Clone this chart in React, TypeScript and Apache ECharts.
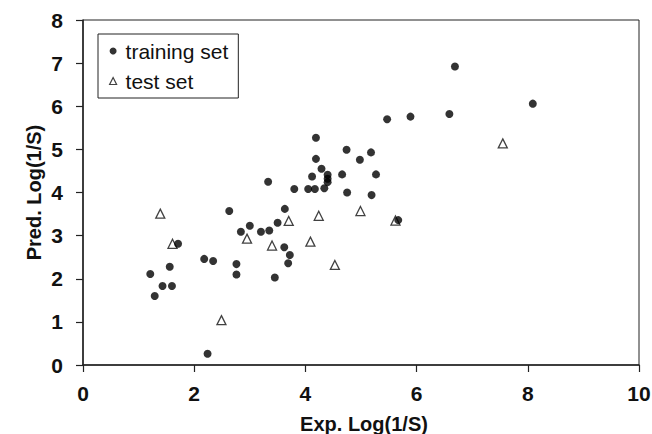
import React, { useEffect, useRef } from "react";
import * as echarts from "echarts";

const trainingSet: [number, number][] = [
  [1.21, 2.11], [1.29, 1.6], [1.43, 1.83], [1.6, 1.83], [1.56, 2.28], [1.71, 2.81],
  [2.18, 2.46], [2.34, 2.41], [2.24, 0.26], [2.63, 3.57], [2.76, 2.34], [2.76, 2.1],
  [2.84, 3.09], [3.0, 3.23], [3.2, 3.09], [3.35, 3.12], [3.33, 4.25], [3.45, 2.03],
  [3.5, 3.3], [3.63, 3.62], [3.62, 2.73], [3.72, 2.55], [3.69, 2.36], [3.8, 4.08],
  [4.05, 4.08], [4.17, 4.08], [4.34, 4.1], [4.12, 4.37], [4.4, 4.41], [4.4, 4.32],
  [4.4, 4.24], [4.29, 4.55], [4.19, 4.78], [4.19, 5.27], [4.66, 4.42], [4.74, 4.99],
  [4.75, 4.0], [4.98, 4.76], [5.18, 4.93], [5.19, 3.94], [5.27, 4.42], [5.47, 5.7],
  [5.89, 5.76], [6.59, 5.82], [6.69, 6.92], [8.09, 6.06], [5.67, 3.36],
];

const testSet: [number, number][] = [
  [1.39, 3.51], [1.61, 2.81], [2.49, 1.04], [2.95, 2.93], [3.4, 2.77], [3.7, 3.34],
  [4.09, 2.86], [4.24, 3.46], [4.53, 2.32], [4.99, 3.57], [5.62, 3.35], [7.55, 5.14],
];

const xTicks = [0, 2, 4, 6, 8, 10];
const yTicks = [0, 1, 2, 3, 4, 5, 6, 7, 8];

const FONT = "'Liberation Sans', Arial, sans-serif";

export default function App() {
  const ref = useRef<HTMLDivElement>(null);
  useEffect(() => {
    if (!ref.current) return;
    const chart = echarts.init(ref.current, undefined, { renderer: "svg" });
    chart.setOption({
      animation: false,
      backgroundColor: "#ffffff",
      grid: {
        left: 83,
        top: 20,
        right: 13,
        bottom: 69,
        containLabel: false,
        outerBoundsMode: "none",
        show: true,
        borderColor: "#222",
        borderWidth: 1,
      },
      legend: {
        orient: "vertical",
        left: 98,
        top: 34,
        padding: [5, 10, 5, 11],
        itemGap: 6,
        itemWidth: 7,
        itemHeight: 7,
        borderColor: "#222",
        borderWidth: 1,
        backgroundColor: "#fff",
        textStyle: {
          fontFamily: FONT,
          fontSize: 21,
          color: "#111",
          lineHeight: 24,
          padding: [0, 0, 0, 4],
        },
        data: [
          { name: "training set", icon: "circle" },
          { name: "test set", icon: "triangle", itemStyle: { color: "#fff", borderColor: "#111", borderWidth: 1.2 } },
        ],
      },
      xAxis: {
        type: "value",
        min: xTicks[0],
        max: xTicks[xTicks.length - 1],
        interval: 2,
        name: "Exp. Log(1/S)",
        nameLocation: "middle",
        nameGap: 49,
        nameTextStyle: {
          fontFamily: FONT,
          fontSize: 20,
          fontWeight: "bold",
          color: "#111",
          padding: [0, 0, 0, 6],
        },
        axisLine: { show: true, onZero: false, lineStyle: { color: "#222", width: 1.5 } },
        axisTick: { show: true, inside: false, length: 7, lineStyle: { color: "#222", width: 1.2 } },
        axisLabel: {
          fontFamily: FONT,
          fontSize: 21,
          fontWeight: "bold",
          color: "#111",
          margin: 18,
        },
        splitLine: { show: false },
      },
      yAxis: {
        type: "value",
        min: yTicks[0],
        max: yTicks[yTicks.length - 1],
        interval: 1,
        name: "Pred. Log(1/S)",
        nameLocation: "middle",
        nameMoveOverlap: false,
        nameGap: 39,
        nameTextStyle: {
          fontFamily: FONT,
          fontSize: 20,
          fontWeight: "bold",
          color: "#111",
        },
        axisLine: { show: true, onZero: false, lineStyle: { color: "#222", width: 1.5 } },
        axisTick: { show: true, inside: false, length: 7, lineStyle: { color: "#222", width: 1.2 } },
        axisLabel: {
          fontFamily: FONT,
          fontSize: 21,
          fontWeight: "bold",
          color: "#111",
          margin: 20,
        },
        splitLine: { show: false },
      },
      series: [
        {
          name: "training set",
          type: "scatter",
          symbol: "circle",
          symbolSize: 8,
          itemStyle: { color: "#000" },
          data: trainingSet,
          z: 3,
        },
        {
          name: "test set",
          type: "scatter",
          symbol: "triangle",
          symbolSize: 9,
          itemStyle: { color: "#fff", borderColor: "#111", borderWidth: 1.3 },
          data: testSet,
          z: 2,
        },
      ],
    });
    return () => chart.dispose();
  }, []);
  return (
    <div
      ref={ref}
      style={{ position: "fixed", left: 0, top: 0, width: 652, height: 434 }}
    />
  );
}
